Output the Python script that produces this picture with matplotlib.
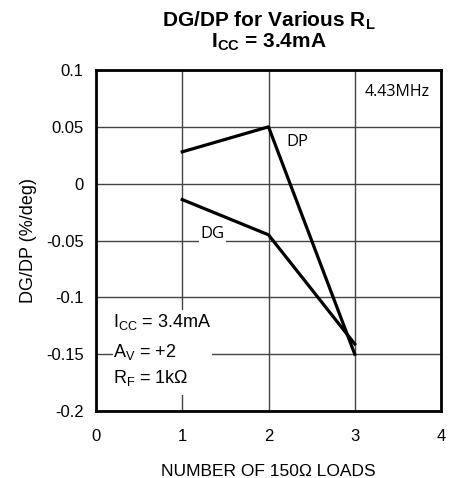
import matplotlib
matplotlib.use("Agg")
import matplotlib.pyplot as plt
from matplotlib.patches import Rectangle

plt.rcParams['font.family'] = ['Liberation Sans', 'DejaVu Sans']
plt.rcParams['mathtext.fontset'] = 'custom'
plt.rcParams['mathtext.rm'] = 'Liberation Sans'
plt.rcParams['mathtext.bf'] = 'Liberation Sans:bold'
plt.rcParams['axes.unicode_minus'] = False

loads = [1, 2, 3]
dp = [0.028, 0.05, -0.15]
dg = [-0.014, -0.045, -0.141]
xticks = [0, 1, 2, 3, 4]
yticks = [-0.2, -0.15, -0.1, -0.05, 0, 0.05, 0.1]
ylabels = ["-0.2", "-0.15", "-0.1", "-0.05", "0", "0.05", "0.1"]

fig = plt.figure(figsize=(4.61, 4.78), dpi=100)
ax = fig.add_axes([96/461, 1-411/478, 345/461, 341/478])

ax.set_xlim(0, 4)
ax.set_ylim(-0.2, 0.1)
ax.set_xticks(xticks)
ax.set_yticks(yticks)
ax.set_yticklabels(ylabels)
ax.tick_params(length=0, labelsize=12)
ax.tick_params(axis='x', pad=13)
ax.tick_params(axis='y', pad=9)
ax.grid(True, color='#444444', linewidth=1)
for s in ax.spines.values():
    s.set_linewidth(2)

ax.plot(loads, dp, color='black', lw=2.3, zorder=5)
ax.plot(loads, dg, color='black', lw=2.3, zorder=5)

# white boxes hiding the grid behind labels
ax.add_patch(Rectangle((0.2, -0.1856), 1.15, 0.0746, facecolor='white',
                       edgecolor='none', zorder=3))
ax.text(1.35, -0.044, "DG", fontsize=12, family=['Open Sans'], ha='center', va='center',
        bbox=dict(facecolor='white', edgecolor='none', pad=1), zorder=4)
ax.text(2.34, 0.037, "DP", fontsize=12, family=['Open Sans'], ha='center', va='center', zorder=4)
ax.text(3.49, 0.081, "4.43MHz", fontsize=11.5, family=['Open Sans'], ha='center', va='center', zorder=4)

ax.text(0.2, -0.122, r"I$_\mathregular{CC}$ = 3.4mA", fontsize=13, va='center', zorder=4)
ax.text(0.2, -0.148, r"A$_\mathregular{V}$ = +2", fontsize=13, va='center', zorder=4)
ax.text(0.2, -0.171, r"R$_\mathregular{F}$ = 1k$\Omega$", fontsize=13, va='center', zorder=4)

ax.set_xlabel("NUMBER OF 150Ω LOADS", fontsize=12.5, labelpad=14)
ax.set_ylabel("DG/DP (%/deg)", fontsize=13, labelpad=6)
fig.text(0.5 * (96 + 441) / 461, 1 - 31/478,
         "DG/DP for Various R$_\\mathbf{L}$\nI$_\\mathbf{CC}$ = 3.4mA",
         ha='center', va='center', fontsize=15, fontweight='bold', linespacing=0.95)

fig.savefig("out.png", dpi=100)
